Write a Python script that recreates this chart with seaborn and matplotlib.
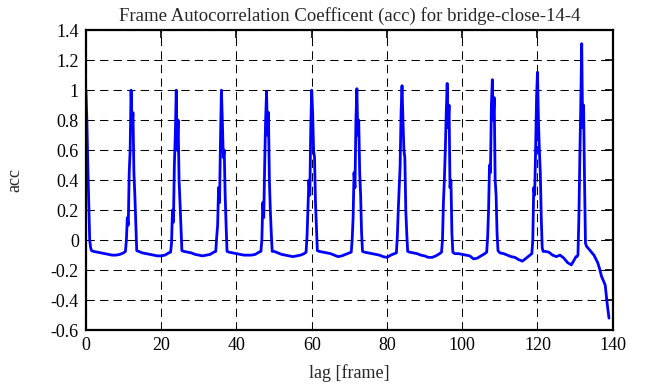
import matplotlib
matplotlib.use("Agg")
import matplotlib.pyplot as plt
import seaborn as sns
import numpy as np
import pandas as pd
from matplotlib.ticker import FuncFormatter, MultipleLocator

# spike at lag 0 (right half only)
first_lag = [0.0, 0.25, 0.5, 0.75, 1.0, 1.25, 1.5]
first_acc = [1.0, 0.8, 0.5, 0.25, 0.0, -0.05, -0.07]

# spikes every 12 frames, sampled at quarter-frame offsets around the peak
peak_lags = [12, 24, 36, 48, 60, 72, 84, 96, 108, 120]
spike_offsets = [-1.5, -1.25, -1.0, -0.75, -0.5, -0.25, 0.0,
                 0.25, 0.5, 0.75, 1.0, 1.25, 1.5]
spike_acc = [
    [-0.075, 0.0, 0.15, 0.1, 0.45, 0.6, 1.0, 0.75, 0.85, 0.45, 0.3, 0.12, -0.07],
    [-0.08, -0.02, 0.2, 0.12, 0.5, 0.7, 1.0, 0.6, 0.8, 0.4, 0.25, 0.08, -0.07],
    [-0.075, 0.02, 0.1, 0.35, 0.25, 0.65, 1.0, 0.8, 0.55, 0.6, 0.3, 0.1, -0.075],
    [-0.075, 0.0, 0.25, 0.15, 0.5, 0.8, 0.99, 0.7, 0.85, 0.4, 0.2, 0.05, -0.075],
    [-0.08, 0.02, 0.2, 0.4, 0.3, 0.75, 1.0, 0.85, 0.6, 0.55, 0.25, 0.08, -0.07],
    [-0.08, 0.0, 0.15, 0.45, 0.35, 0.8, 1.01, 0.7, 0.8, 0.45, 0.3, 0.05, -0.075],
    [-0.085, 0.02, 0.2, 0.35, 0.5, 0.85, 1.03, 0.8, 0.6, 0.55, 0.2, 0.05, -0.075],
    [-0.08, 0.0, 0.25, 0.4, 0.6, 0.85, 1.045, 0.75, 0.9, 0.35, 0.4, 0.05, -0.08],
    [-0.08, 0.02, 0.2, 0.5, 0.45, 0.9, 1.07, 0.8, 0.95, 0.4, 0.3, 0.05, -0.07],
    [-0.09, 0.0, 0.35, 0.3, 0.6, 0.95, 1.12, 0.8, 0.6, 0.45, 0.15, -0.05, -0.075],
]

# flat stretches between spikes: integer lags start+2 .. start+10
gap_starts = [0, 12, 24, 36, 48, 60, 72, 84, 96, 108, 120]
gap_acc = [
    [-0.075, -0.08, -0.085, -0.09, -0.095, -0.1, -0.1, -0.095, -0.085],
    [-0.075, -0.085, -0.09, -0.095, -0.1, -0.105, -0.105, -0.1, -0.085],
    [-0.075, -0.08, -0.085, -0.095, -0.1, -0.105, -0.1, -0.095, -0.08],
    [-0.08, -0.085, -0.09, -0.095, -0.1, -0.1, -0.1, -0.095, -0.08],
    [-0.075, -0.085, -0.095, -0.1, -0.105, -0.11, -0.105, -0.1, -0.09],
    [-0.075, -0.08, -0.085, -0.09, -0.1, -0.11, -0.105, -0.095, -0.085],
    [-0.08, -0.085, -0.09, -0.095, -0.1, -0.11, -0.115, -0.1, -0.09],
    [-0.08, -0.085, -0.09, -0.1, -0.105, -0.115, -0.115, -0.105, -0.09],
    [-0.09, -0.09, -0.095, -0.1, -0.105, -0.125, -0.12, -0.105, -0.09],
    [-0.085, -0.09, -0.1, -0.11, -0.115, -0.13, -0.14, -0.12, -0.1],
    [-0.075, -0.08, -0.1, -0.11, -0.1, -0.12, -0.15, -0.165, -0.12],
]

# last spike and the drop at the end
last_lag = [130.25, 130.5, 130.75, 131.0, 131.25, 131.5, 131.75, 132.0, 132.25,
            132.5, 132.75, 133, 134, 135, 136, 136.5, 137, 137.5, 138, 138.5, 139]
last_acc = [-0.11, -0.11, -0.1, 0.15, 0.55, 0.9, 1.31, 0.75, 0.9,
            0.4, -0.02, -0.04, -0.07, -0.1, -0.15, -0.19, -0.24, -0.27, -0.3, -0.42, -0.52]

lags, accs = list(first_lag), list(first_acc)
for i, start in enumerate(gap_starts):
    lags += list(range(start + 2, start + 11))
    accs += gap_acc[i]
    if i < len(peak_lags):
        lags += [peak_lags[i] + o for o in spike_offsets]
        accs += spike_acc[i]
lags += last_lag
accs += last_acc
df = pd.DataFrame({"lag": lags, "acc": accs})

sns.set_style("white")
plt.rcParams["font.family"] = ["Liberation Serif", "DejaVu Serif"]
plt.rcParams["axes.unicode_minus"] = False

fig = plt.figure(figsize=(6.61, 3.87), dpi=100)
ax = fig.add_axes([0.130, 0.147, 0.797, 0.775])

sns.lineplot(data=df, x="lag", y="acc", ax=ax, color="#0000ff",
             linewidth=2.0, estimator=None, sort=False)

ax.set_xlim(0, 140)
ax.set_ylim(-0.6, 1.4)
ax.xaxis.set_major_locator(MultipleLocator(20))
ax.yaxis.set_major_locator(MultipleLocator(0.2))
ax.yaxis.set_major_formatter(FuncFormatter(lambda v, p: "%g" % round(v, 2)))

ax.grid(True, color="black", linestyle=(0, (8, 5)), linewidth=0.75)
ax.tick_params(direction="in", length=6, width=1.2, top=True, right=True,
               labelsize=13, colors="black", pad=5)
for s in ax.spines.values():
    s.set_linewidth(1.6)
    s.set_color("black")

ax.set_title("Frame Autocorrelation Coefficent (acc) for bridge-close-14-4",
             fontsize=13.5, pad=7)
ax.set_xlabel("lag [frame]", fontsize=13)
ax.set_ylabel("acc", fontsize=13)
ax.xaxis.set_label_coords(0.5, -0.115)
ax.yaxis.set_label_coords(-0.118, 0.5)

fig.savefig("out.png", dpi=100)
